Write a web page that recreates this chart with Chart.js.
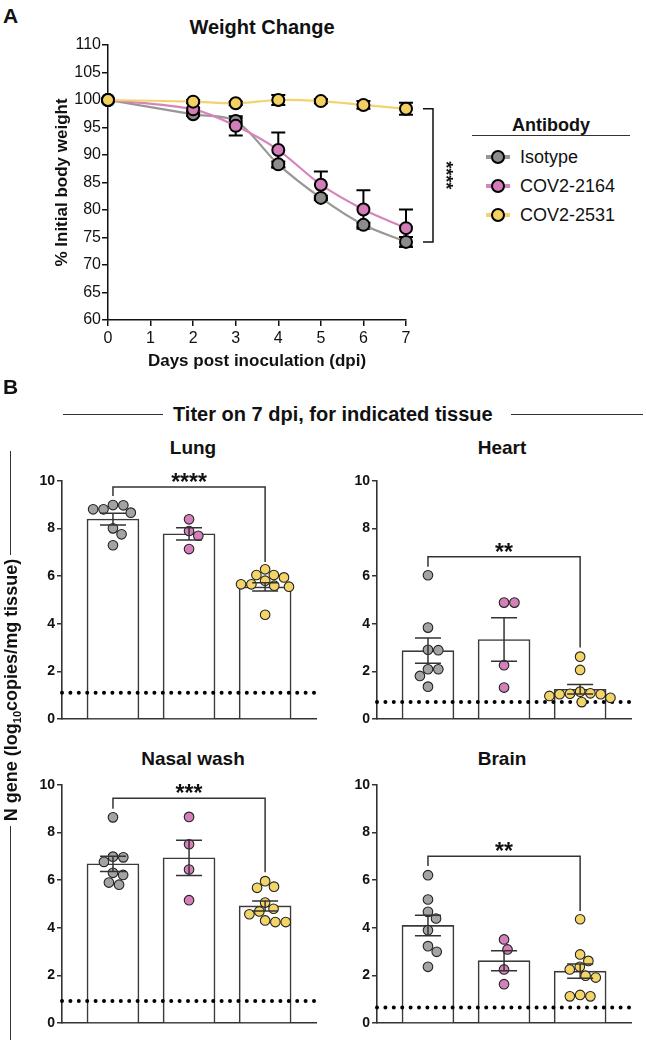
<!DOCTYPE html>
<html>
<head>
<meta charset="utf-8">
<script src="https://cdn.jsdelivr.net/npm/chart.js"></script>
<style>
  html, body { margin: 0; padding: 0; background: #fff; }
  #fig { position: relative; width: 646px; height: 1040px; overflow: hidden;
         font-family: 'Liberation Sans', Arial, Helvetica, sans-serif; color: #111; }
  canvas { position: absolute; }
  .t { position: absolute; white-space: nowrap; line-height: 1; font-weight: bold; }
  .c { transform: translateX(-50%); }
  .hl { position: absolute; height: 1.3px; background: #333; }
  .vl { position: absolute; width: 1.3px; background: #333; }
  .sw { position: absolute; height: 4px; width: 24px; }
  .mk { position: absolute; width: 10px; height: 10px; border: 2px solid #000; border-radius: 50%; }
</style>
</head>
<body>
<div id="fig">
  <div class="t" style="left:3px;top:5px;font-size:21px">A</div>
  <div class="t c" style="left:262px;top:17px;font-size:20px">Weight Change</div>
  <canvas id="weightChart" width="460" height="380" style="left:0;top:0"></canvas>

  <div class="t c" style="left:551px;top:116px;font-size:18px">Antibody</div>
  <div class="hl" style="left:472px;top:135px;width:158px"></div>
  <div id="legend"></div>

  <div class="t" style="left:3px;top:376px;font-size:21px">B</div>
  <div class="hl" style="left:63px;top:414px;width:100px"></div>
  <div class="t" style="left:173px;top:404px;font-size:20px">Titer on 7 dpi, for indicated tissue</div>
  <div class="hl" style="left:511px;top:414px;width:132px"></div>

  <div class="vl" style="left:10px;top:451px;height:104px"></div>
  <div class="t" style="left:11px;top:690px;font-size:18px;transform:translate(-50%,-50%) rotate(-90deg)">N gene (log<span style="font-size:11px;position:relative;top:4px">10</span>copies/mg tissue)</div>
  <div class="vl" style="left:10px;top:826px;height:214px"></div>

  <div class="t c" style="left:193px;top:438px;font-size:19px">Lung</div>
  <div class="t c" style="left:502px;top:438px;font-size:19px">Heart</div>
  <div class="t c" style="left:193px;top:749px;font-size:19px">Nasal wash</div>
  <div class="t c" style="left:502px;top:749px;font-size:19px">Brain</div>

  <canvas id="lungChart" width="302" height="290" style="left:20px;top:440px"></canvas>
  <canvas id="heartChart" width="302" height="290" style="left:335px;top:440px"></canvas>
  <canvas id="nasalChart" width="302" height="290" style="left:20px;top:744px"></canvas>
  <canvas id="brainChart" width="302" height="290" style="left:335px;top:744px"></canvas>
</div>

<script>
// ---- A: weight change ----
const days = [0, 2, 3, 4, 5, 6, 7];
const groupNames = ['Isotype', 'COV2-2164', 'COV2-2531'];
const isotypeWeight = [100, 97.4, 96.2, 88.3, 82.2, 77.3, 74.2];
const isotypeSem    = [0, 0.3, 0.5, 0.5, 0.4, 0.4, 0.9];
const cov2164Weight = [100, 98.3, 95.3, 90.9, 84.6, 80.1, 76.7];
const cov2164Sem    = [0, 0.3, 1.75, 3.2, 2.4, 3.5, 3.4];
const cov2531Weight = [100, 99.7, 99.4, 100.0, 99.8, 99.1, 98.4];
const cov2531Sem    = [0, 0.3, 0.3, 0.9, 0.4, 0.7, 1.1];
const weightStars = '****';

// ---- B: titer on 7 dpi (log10 copies/mg) ----
const lungIso     = [8.99, 8.81, 8.67, 8.81, 8.98, 8.01, 7.76, 7.30];
const lungCov2164 = [8.39, 7.90, 7.70, 7.14];
const lungCov2531 = [6.29, 6.05, 5.95, 6.05, 5.81, 5.66, 5.56, 5.66, 5.60, 4.38];
const lungMean = [8.4, 7.78, 5.55];
const lungSem  = [0.25, 0.26, 0.17];
const lungLod  = 1.1;

const heartIso     = [6.04, 3.84, 2.89, 2.91, 2.09, 2.09, 1.81, 1.36];
const heartCov2164 = [4.89, 4.89, 2.26, 1.32];
const heartCov2531 = [2.62, 2.06, 0.97, 1.06, 1.04, 1.08, 1.15, 1.04, 0.89, 0.71];
const heartMean = [2.87, 3.34, 1.25];
const heartSem  = [0.53, 0.91, 0.2];
const heartLod  = 0.71;

const nasalIso     = [8.64, 6.96, 6.99, 6.77, 6.22, 6.31, 5.81, 5.90];
const nasalCov2164 = [8.66, 7.51, 6.45, 5.16];
const nasalCov2531 = [5.68, 5.73, 5.96, 4.69, 4.57, 4.80, 5.06, 4.24, 4.24, 4.31];
const nasalMean = [6.69, 6.94, 4.92];
const nasalSem  = [0.32, 0.74, 0.21];
const nasalLod  = 0.92;

const brainIso     = [6.21, 5.19, 4.67, 4.39, 3.90, 3.23, 2.99, 2.36];
const brainCov2164 = [3.51, 3.09, 2.25, 1.63];
const brainCov2531 = [4.36, 2.88, 2.61, 2.25, 2.36, 1.99, 1.91, 1.12, 1.18, 1.12];
const brainMean = [4.1, 2.62, 2.18];
const brainSem  = [0.43, 0.42, 0.3];
const brainLod  = 0.65;

// comparison brackets Isotype vs COV2-2531: [top, left leg end, right leg end]
const lungBracket  = { levels: [9.75, 9.37, 6.6], stars: '****' };
const heartBracket = { levels: [6.82, 6.4, 3.0], stars: '**' };
const nasalBracket = { levels: [9.44, 9.0, 6.33], stars: '***' };
const brainBracket = { levels: [7.01, 6.6, 4.71], stars: '**' };

// colours
const lineColors = ['#979797', '#d784bd', '#f3d46c'];
const markColors = ['#8c8c8c', '#d27cb8', '#f2d061'];
const dotColors  = ['#a3a3a3', '#d580bb', '#f3d466'];

Chart.defaults.font.family = "'Liberation Sans', Arial, Helvetica, sans-serif";
Chart.defaults.color = '#111';

// legend
const legend = document.getElementById('legend');
groupNames.forEach((name, i) => {
  const cy = 157 + i * 29;
  legend.innerHTML += `
    <div class="sw" style="left:486px;top:${cy - 2}px;background:${lineColors[i]}"></div>
    <div class="mk" style="left:491px;top:${cy - 7}px;background:${markColors[i]}"></div>
    <div class="t" style="left:520px;top:${cy - 9}px;font-size:18px;font-weight:normal">${name}</div>`;
});

// ---- weight chart ----
const weightSeries = [
  { data: isotypeWeight, sem: isotypeSem },
  { data: cov2164Weight, sem: cov2164Sem },
  { data: cov2531Weight, sem: cov2531Sem }
];

const weightErrors = {
  id: 'weightErrors',
  beforeDatasetsDraw(chart) {
    const { ctx, scales: { x, y } } = chart;
    ctx.save();
    ctx.strokeStyle = '#000';
    ctx.lineWidth = 2;
    weightSeries.forEach(s => {
      s.data.forEach((v, i) => {
        if (!s.sem[i]) return;
        const px = x.getPixelForValue(days[i]);
        const top = y.getPixelForValue(v + s.sem[i]);
        const bot = y.getPixelForValue(v - s.sem[i]);
        ctx.beginPath();
        ctx.moveTo(px, top); ctx.lineTo(px, bot);
        ctx.moveTo(px - 7, top); ctx.lineTo(px + 7, top);
        ctx.moveTo(px - 7, bot); ctx.lineTo(px + 7, bot);
        ctx.stroke();
      });
    });
    ctx.restore();
  },
  afterDatasetsDraw(chart) {
    // significance bracket at day 7
    const { ctx, scales: { x, y } } = chart;
    const last = days.length - 1;
    const bx = x.getPixelForValue(days[last]) + 27;
    const yTop = y.getPixelForValue(cov2531Weight[last]);
    const yBot = y.getPixelForValue(isotypeWeight[last]);
    ctx.save();
    ctx.strokeStyle = '#111';
    ctx.lineWidth = 1.5;
    ctx.beginPath();
    ctx.moveTo(bx - 10, yTop); ctx.lineTo(bx, yTop); ctx.lineTo(bx, yBot); ctx.lineTo(bx - 10, yBot);
    ctx.stroke();
    ctx.translate(bx + 12, (yTop + yBot) / 2);
    ctx.rotate(Math.PI / 2);
    ctx.fillStyle = '#111';
    ctx.font = "bold 18px 'Liberation Sans', Arial";
    ctx.textAlign = 'center';
    ctx.textBaseline = 'middle';
    ctx.fillText(weightStars, 0, 0);
    ctx.restore();
  }
};

const axisLine = { display: true, color: '#111', width: 1.5 };
const tickGrid = { display: true, drawOnChartArea: false, drawTicks: true, tickLength: 6, color: '#111', lineWidth: 1.5 };

new Chart(document.getElementById('weightChart'), {
  type: 'line',
  data: {
    datasets: [2, 1, 0].map(g => ({
      label: groupNames[g],
      data: days.map((d, i) => ({ x: d, y: weightSeries[g].data[i] })),
      borderColor: lineColors[g],
      borderWidth: 2.2,
      tension: 0.3,
      pointRadius: 6,
      pointBorderWidth: 2,
      pointBorderColor: '#000',
      pointBackgroundColor: markColors[g],
      clip: false
    }))
  },
  options: {
    responsive: false,
    animation: false,
    devicePixelRatio: 1,
    layout: { padding: { top: 45, right: 54, left: 0, bottom: 0 } },
    plugins: { legend: { display: false }, tooltip: { enabled: false } },
    scales: {
      x: {
        type: 'linear', min: 0, max: 7,
        ticks: { stepSize: 1, font: { size: 16 }, padding: 3 },
        grid: tickGrid,
        border: axisLine,
        title: { display: true, text: 'Days post inoculation (dpi)', font: { size: 17, weight: 'bold' },
                 padding: { top: 0, bottom: 8 } },
        afterFit(s) { s.height = 60; }
      },
      y: {
        min: 60, max: 110,
        ticks: { stepSize: 5, font: { size: 16 }, padding: 1 },
        grid: tickGrid,
        border: axisLine,
        title: { display: true, text: '% Initial body weight', font: { size: 17, weight: 'bold' },
                 padding: { top: 52, bottom: 0 } },
        afterFit(s) { s.width = 108; }
      }
    }
  },
  plugins: [weightErrors]
});

// ---- tissue charts ----
const X_MIN = -0.67, X_MAX = 2.67;
const PX_X = 77.8, PX_Y = 23.8, DOT_R = 5.3;

// simple beeswarm: place each dot as close to the group centre as it fits
function swarm(values, center) {
  const placed = [];
  [...values].sort((a, b) => b - a).forEach(v => {
    const py = v * PX_Y;
    const cands = [0];
    placed.forEach(q => {
      const dy = py - q.py;
      if (Math.abs(dy) < 2 * DOT_R) {
        const dx = Math.sqrt(4 * DOT_R * DOT_R - dy * dy);
        cands.push(q.px + dx, q.px - dx);
      }
    });
    cands.sort((a, b) => Math.abs(a) - Math.abs(b));
    const px = cands.find(c => placed.every(q => (c - q.px) ** 2 + (py - q.py) ** 2 >= 4 * DOT_R * DOT_R - 0.01));
    placed.push({ px, py, v });
  });
  return placed.map(q => ({ x: center + q.px / PX_X, y: q.v }));
}

function drawTissue(canvasId, groups, means, sems, lod, bracket) {
  const semBracket = {
    id: 'semBracket',
    afterDatasetsDraw(chart) {
      const { ctx, scales: { x, y } } = chart;
      ctx.save();
      ctx.strokeStyle = '#333';
      ctx.lineWidth = 1.5;
      means.forEach((m, i) => {
        const px = x.getPixelForValue(i);
        const top = y.getPixelForValue(m + sems[i]);
        const bot = y.getPixelForValue(m - sems[i]);
        ctx.beginPath();
        ctx.moveTo(px, top); ctx.lineTo(px, bot);
        ctx.moveTo(px - 13, top); ctx.lineTo(px + 13, top);
        ctx.moveTo(px - 13, bot); ctx.lineTo(px + 13, bot);
        ctx.stroke();
      });
      const [top, leftEnd, rightEnd] = bracket.levels;
      const x0 = x.getPixelForValue(0), x2 = x.getPixelForValue(2);
      const yt = y.getPixelForValue(top);
      ctx.beginPath();
      ctx.moveTo(x0, y.getPixelForValue(leftEnd));
      ctx.lineTo(x0, yt); ctx.lineTo(x2, yt);
      ctx.lineTo(x2, y.getPixelForValue(rightEnd));
      ctx.stroke();
      ctx.fillStyle = '#111';
      ctx.font = "bold 23px 'Liberation Sans', Arial";
      ctx.textAlign = 'center';
      ctx.textBaseline = 'alphabetic';
      ctx.fillText(bracket.stars, x.getPixelForValue(1), yt + 3);
      ctx.restore();
    }
  };

  new Chart(document.getElementById(canvasId), {
    type: 'bar',
    data: {
      datasets: [
        {
          type: 'bar',
          data: means.map((m, i) => ({ x: i, y: m })),
          backgroundColor: '#fff',
          borderColor: '#3a3a3a',
          borderWidth: 1.6,
          barThickness: 52,
          order: 3
        },
        {
          type: 'line',
          data: [{ x: X_MIN, y: lod }, { x: X_MAX, y: lod }],
          borderColor: '#000',
          borderWidth: 4,
          borderDash: [0, 8.4],
          borderCapStyle: 'round',
          pointRadius: 0,
          clip: false,
          order: 2
        },
        ...groups.map((vals, g) => ({
          type: 'line',
          showLine: false,
          data: swarm(vals, g),
          pointRadius: DOT_R - 0.5,
          pointBorderWidth: 1.1,
          pointBorderColor: '#222',
          pointBackgroundColor: dotColors[g],
          clip: false,
          order: 1
        }))
      ]
    },
    options: {
      responsive: false,
      animation: false,
      devicePixelRatio: 1,
      layout: { padding: { top: 41, right: 0, left: 0, bottom: 0 } },
      plugins: { legend: { display: false }, tooltip: { enabled: false } },
      scales: {
        x: {
          type: 'linear', min: X_MIN, max: X_MAX, offset: false,
          ticks: { display: false },
          grid: { display: false, offset: false },
          border: { display: true, color: '#333', width: 1.6 },
          afterFit(s) { s.height = 11; }
        },
        y: {
          min: 0, max: 10,
          ticks: { stepSize: 2, font: { size: 14, weight: 'bold' }, padding: 2 },
          grid: { display: true, drawOnChartArea: false, tickLength: 5, color: '#333', lineWidth: 1.5 },
          border: { display: true, color: '#333', width: 1.6 },
          afterFit(s) { s.width = 42; }
        }
      }
    },
    plugins: [semBracket]
  });
}

drawTissue('lungChart', [lungIso, lungCov2164, lungCov2531], lungMean, lungSem, lungLod, lungBracket);
drawTissue('heartChart', [heartIso, heartCov2164, heartCov2531], heartMean, heartSem, heartLod, heartBracket);
drawTissue('nasalChart', [nasalIso, nasalCov2164, nasalCov2531], nasalMean, nasalSem, nasalLod, nasalBracket);
drawTissue('brainChart', [brainIso, brainCov2164, brainCov2531], brainMean, brainSem, brainLod, brainBracket);
</script>
</body>
</html>
